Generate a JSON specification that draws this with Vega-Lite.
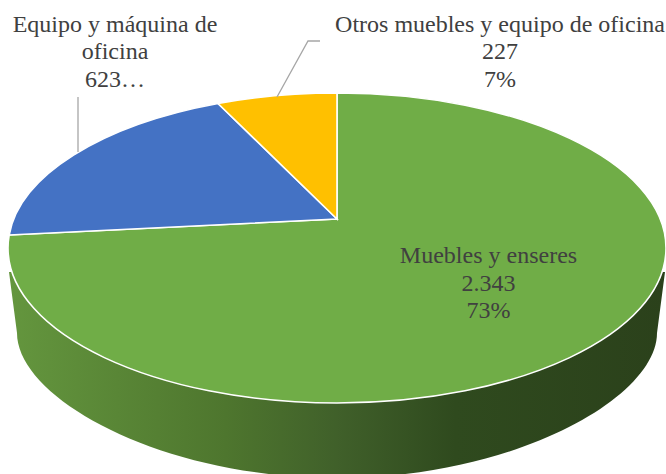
{
"$schema":"https://vega.github.io/schema/vega-lite/v6.json",
"width":666,"height":474,"padding":0,"autosize":{"type":"none"},
"background":"white",
"config":{"view":{"stroke":null}},
"data":{"values":[
{"categoria":"Muebles y enseres","valor":2343,"porcentaje":73,"etiqueta":"Muebles y enseres\n2.343\n73%"},
{"categoria":"Equipo y máquina de oficina","valor":623,"porcentaje":20,"etiqueta":"Equipo y máquina de\noficina\n623…"},
{"categoria":"Otros muebles y equipo de oficina","valor":227,"porcentaje":7,"etiqueta":"Otros muebles y equipo de oficina\n227\n7%"}
]},
"layer":[
{"transform":[{"filter":"datum.valor == 2343"}],
 "mark":{"type":"point","filled":true,"opacity":1,"size":4,"strokeWidth":0,
  "shape":"M-324,35 L-316,96 C-316,161 -173,241 4,241 C181,241 324,161 324,96 L332,35 Z",
  "fill":{"gradient":"linear","x1":0,"y1":0,"x2":1,"y2":0,"stops":[
   {"offset":0,"color":"#64963e"},{"offset":0.33,"color":"#4e762e"},{"offset":0.5,"color":"#40602a"},{"offset":0.68,"color":"#2f4a1e"},{"offset":1,"color":"#2b411b"}]}},
 "encoding":{}},
{"mark":{"type":"point","filled":true,"opacity":1,"size":4,"stroke":"white","strokeWidth":1.6},
 "encoding":{
  "shape":{"field":"categoria","legend":null,"scale":{"domain":["Muebles y enseres","Equipo y máquina de oficina","Otros muebles y equipo de oficina"],
   "range":["M4,-18 L4,-144 C185.7,-144 333,-74.6 333,11 C333,96.6 185.7,166 4,166 C-177.7,166 -325,96.6 -325,11 C-325,6.66 -324.61,2.32 -323.84,-2 Z",
   "M4,-18 L-323.84,-2 C-313.29,-61.05 -232.27,-112.07 -114.97,-133.5 Z",
   "M4,-18 L-114.97,-133.5 C-77.03,-140.43 -36.7,-144 4,-144 Z"]}},
  "color":{"field":"categoria","legend":null,"scale":{"domain":["Muebles y enseres","Equipo y máquina de oficina","Otros muebles y equipo de oficina"],"range":["#70ad47","#4472c4","#ffc000"]}},
  "order":{"field":"valor","sort":"descending"}}},
{"transform":[{"filter":"datum.valor == 623"}],
 "mark":{"type":"point","filled":false,"opacity":1,"size":4,"stroke":"#a6a6a6","strokeWidth":1.3,"shape":"M-255,-85 L-255,-140"},"encoding":{}},
{"transform":[{"filter":"datum.valor == 227"}],
 "mark":{"type":"point","filled":false,"opacity":1,"size":4,"stroke":"#a6a6a6","strokeWidth":1.3,"shape":"M-56,-140 L-25,-196 L-13,-196"},"encoding":{}},
{"transform":[{"filter":"datum.valor == 2343"}],
 "mark":{"type":"text","font":"Liberation Serif","fontSize":24,"color":"#404040","lineBreak":"\n","lineHeight":27.5,"align":"center","baseline":"alphabetic","dx":155.5,"dy":26},
 "encoding":{"text":{"field":"etiqueta"}}},
{"transform":[{"filter":"datum.valor == 623"}],
 "mark":{"type":"text","font":"Liberation Serif","fontSize":24,"color":"#404040","lineBreak":"\n","lineHeight":27.5,"align":"center","baseline":"alphabetic","dx":-218,"dy":-205.5},
 "encoding":{"text":{"field":"etiqueta"}}},
{"transform":[{"filter":"datum.valor == 227"}],
 "mark":{"type":"text","font":"Liberation Serif","fontSize":24,"color":"#404040","lineBreak":"\n","lineHeight":27.5,"align":"center","baseline":"alphabetic","dx":167,"dy":-205.5},
 "encoding":{"text":{"field":"etiqueta"}}}
]}
